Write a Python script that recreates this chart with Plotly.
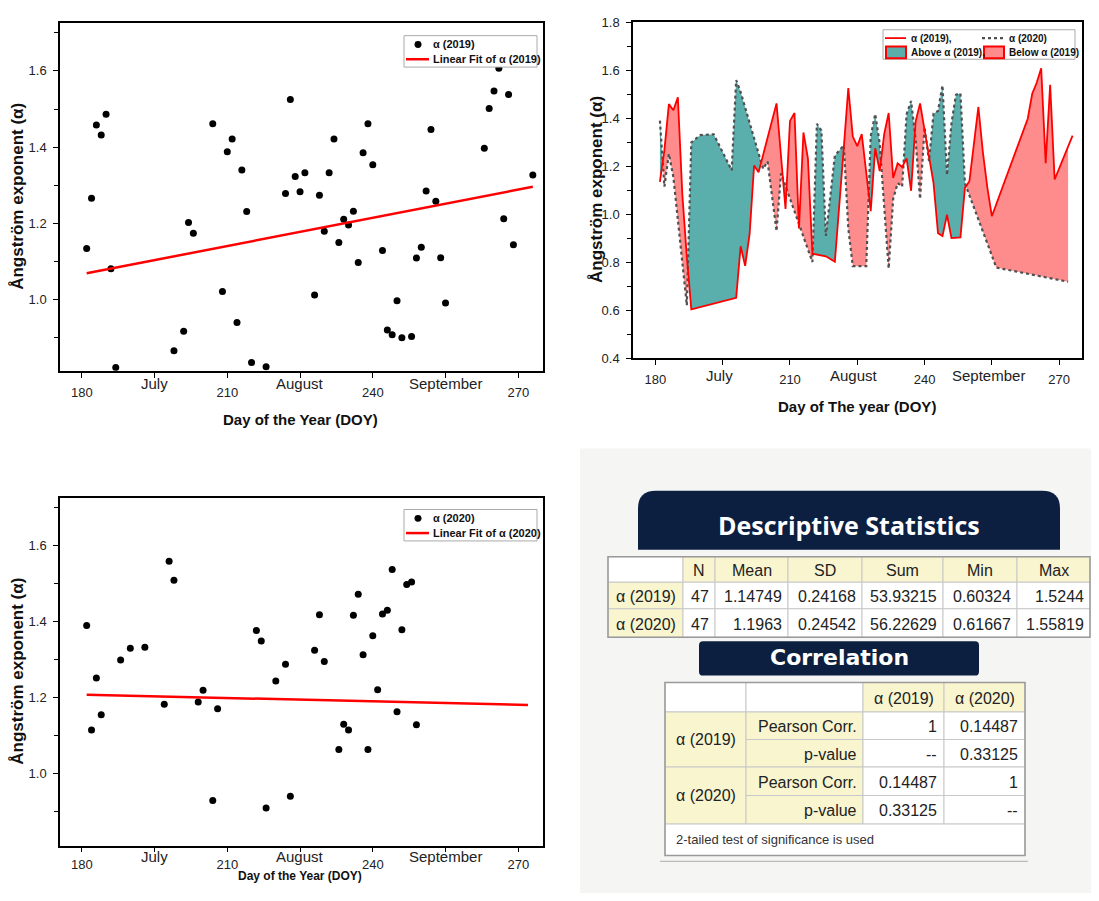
import numpy as np
import plotly.graph_objects as go

# page body has an 8px margin: make the figure fit the window exactly and
# map reference-pixel coordinates onto it
OFF = 8
FW, FH = 1099 - 2 * OFF, 901 - 2 * OFF
FONT = "Liberation Sans, Arial, sans-serif"

# ---------------- data ----------------
doy_2019 = [181, 182, 183, 184, 185, 186, 187, 188, 198, 199, 200, 201, 202, 203, 207, 209, 210,
            211, 212, 213, 214, 215, 218, 220, 222, 223, 224, 225, 226, 228, 229, 230, 231, 232,
            233, 234, 235, 236, 237, 238, 239, 240, 242, 243, 244, 245, 246, 248, 249, 250, 251,
            252, 253, 254, 255, 263, 264, 265, 266, 267, 268, 269, 273]
alpha_2019 = [1.134, 1.266, 1.458, 1.432, 1.486, 1.081, 0.822, 0.603, 0.651, 0.866, 0.784, 0.917,
              1.202, 1.174, 1.461, 1.021, 1.388, 1.421, 0.940, 1.340, 1.231, 0.835, 0.824, 0.801,
              1.278, 1.525, 1.323, 1.283, 1.333, 1.012, 1.274, 1.179, 1.333, 1.421, 1.150, 1.211,
              1.196, 1.232, 1.097, 1.385, 1.461, 1.354, 1.129, 0.920, 0.908, 0.997, 0.900, 0.903,
              1.109, 1.137, 1.285, 1.446, 1.258, 1.110, 0.991, 1.397, 1.501, 1.547, 1.607, 1.212,
              1.538, 1.144, 1.327]
doy_2020 = [181, 182, 183, 184, 187, 188, 190, 193, 197, 198, 199, 204, 205, 207, 208, 215, 216,
            217, 218, 220, 222, 223, 224, 227, 228, 229, 230, 232, 233, 234, 235, 236, 237, 238,
            239, 240, 241, 242, 243, 244, 245, 246, 247, 248, 249, 256, 272]
alpha_2020 = [1.389, 1.114, 1.251, 1.154, 0.620, 1.298, 1.329, 1.332, 1.182, 1.558, 1.508, 1.188,
              1.219, 0.929, 1.170, 0.800, 1.376, 1.348, 0.909, 1.243, 1.287, 0.940, 0.783, 0.783,
              1.324, 1.417, 1.294, 0.773, 1.063, 1.129, 1.114, 1.416, 1.471, 1.312, 1.063, 1.362,
              1.220, 1.419, 1.429, 1.536, 1.162, 1.378, 1.497, 1.503, 1.128, 0.777, 0.718]
fit_doy_2019 = [181, 273]
fit_alpha_2019 = [1.069, 1.296]
fit_doy_2020 = [181, 272]
fit_alpha_2020 = [1.207, 1.180]
month_names = ["July", "August", "September"]
month_doy = [195, 225, 255]

desc_columns = ["N", "Mean", "SD", "Sum", "Min", "Max"]
desc_rows = ["α (2019)", "α (2020)"]
desc_2019 = ["47", "1.14749", "0.24168", "53.93215", "0.60324", "1.5244"]
desc_2020 = ["47", "1.1963", "0.24542", "56.22629", "0.61667", "1.55819"]
corr_columns = ["α (2019)", "α (2020)"]
corr_rows = ["α (2019)", "α (2020)"]
corr_stats = ["Pearson Corr.", "p-value"]
corr_2019 = [["1", "0.14487"], ["--", "0.33125"]]
corr_2020 = [["0.14487", "1"], ["0.33125", "--"]]
corr_note = "2-tailed test of significance is used"

RED = "#ff0000"
TEAL = "#5aafad"
SALMON = "#ff8c8c"
DOT = "#505050"
NAVY = "#0c1f40"
YEL = "#f8f5cf"


def px(x):
    return (x - OFF) / FW


def py(y):
    return 1 - (y - OFF) / FH


fig = go.Figure()

# ---- panel 1 (2019 scatter) ----
fig.add_trace(go.Scatter(x=doy_2019, y=alpha_2019, mode="markers",
                         marker=dict(color="black", size=7), xaxis="x", yaxis="y"))
fig.add_trace(go.Scatter(x=fit_doy_2019, y=fit_alpha_2019, mode="lines",
                         line=dict(color=RED, width=2.5), xaxis="x", yaxis="y"))

# ---- panel 3 (2020 scatter) ----
fig.add_trace(go.Scatter(x=doy_2020, y=alpha_2020, mode="markers",
                         marker=dict(color="black", size=7), xaxis="x3", yaxis="y3"))
fig.add_trace(go.Scatter(x=fit_doy_2020, y=fit_alpha_2020, mode="lines",
                         line=dict(color=RED, width=2.5), xaxis="x3", yaxis="y3"))

# ---- panel 2 (fill between the two years) ----
d19 = np.array(doy_2019, float)
v19 = np.array(alpha_2019, float)
d20 = np.array(doy_2020, float)
v20 = np.array(alpha_2020, float)
lo, hi = max(d19.min(), d20.min()), min(d19.max(), d20.max())
grid = np.unique(np.concatenate([d19, d20]))
grid = grid[(grid >= lo) & (grid <= hi)]
ga = np.interp(grid, d19, v19)
gb = np.interp(grid, d20, v20)
xs = [grid[0]]
for i in range(len(grid) - 1):
    f0, f1 = gb[i] - ga[i], gb[i + 1] - ga[i + 1]
    if f0 * f1 < 0:
        t = f0 / (f0 - f1)
        xs.append(grid[i] + t * (grid[i + 1] - grid[i]))
    xs.append(grid[i + 1])
xs = np.array(xs)
A = np.interp(xs, d19, v19)
B = np.interp(xs, d20, v20)
top = np.maximum(A, B)

fig.add_trace(go.Scatter(x=xs, y=A, mode="lines", line=dict(width=0), xaxis="x2", yaxis="y2"))
fig.add_trace(go.Scatter(x=xs, y=top, mode="lines", line=dict(width=0), fill="tonexty",
                         fillcolor=TEAL, xaxis="x2", yaxis="y2"))
fig.add_trace(go.Scatter(x=xs, y=B, mode="lines", line=dict(width=0), xaxis="x2", yaxis="y2"))
fig.add_trace(go.Scatter(x=xs, y=top, mode="lines", line=dict(width=0), fill="tonexty",
                         fillcolor=SALMON, xaxis="x2", yaxis="y2"))
fig.add_trace(go.Scatter(x=doy_2020, y=alpha_2020, mode="lines",
                         line=dict(color=DOT, width=2.2, dash="dot"), xaxis="x2", yaxis="y2"))
fig.add_trace(go.Scatter(x=doy_2019, y=alpha_2019, mode="lines",
                         line=dict(color=RED, width=1.8), xaxis="x2", yaxis="y2"))

# ---------------- axes ----------------
tickfont = dict(family=FONT, size=13, color="#222")
base = dict(showline=True, linecolor="black", linewidth=1.5, mirror=True, ticks="outside",
            ticklen=5, tickwidth=1.2, tickcolor="black", showgrid=False, zeroline=False,
            tickfont=tickfont, ticklabelstandoff=4, ticklabeloverflow="allow")


def xax(rng, ticks="outside", **kw):
    return dict(base, range=rng, tick0=180, dtick=30, ticks=ticks,
                minor=dict(tick0=180, dtick=15, ticks=ticks, ticklen=5, tickwidth=1.2,
                           tickcolor="black"), **kw)


def yax(rng, ticks="outside", minorlen=4, **kw):
    return dict(base, range=rng, tick0=0, dtick=0.2, tickformat=".1f", ticks=ticks,
                minor=dict(tick0=0, dtick=0.1, ticks=ticks, ticklen=minorlen, tickwidth=1.2,
                           tickcolor="black"), **kw)


R1X, R1Y = [175.5, 275.1], [0.813, 1.726]
R2X, R2Y = [175, 275.1], [0.4, 1.8005]
R3X, R3Y = [175.5, 275.1], [0.81, 1.725]
deco = dict(showticklabels=False, showline=False)

x3 = xax(R3X, domain=[px(60), px(543)], anchor="y3")
x3["ticklabelstandoff"] = 1

fig.update_layout(
    xaxis=xax(R1X, domain=[px(60), px(543)], anchor="y"),
    yaxis=yax(R1Y, domain=[py(370), py(16)], anchor="x"),
    xaxis2=xax(R2X, domain=[px(633), px(1082)], anchor="y2"),
    yaxis2=yax(R2Y, domain=[py(357), py(15)], anchor="x2"),
    xaxis3=x3,
    yaxis3=yax(R3Y, domain=[py(853), py(499)], anchor="x3"),
    # opposite-side tick decorations
    xaxis4=xax(R1X, ticks="inside", overlaying="x", anchor="y", side="top", **deco),
    yaxis4=yax(R1Y, overlaying="y", anchor="x", side="right", **deco),
    xaxis5=xax(R2X, ticks="inside", overlaying="x2", anchor="y2", side="top", **deco),
    yaxis5=yax(R2Y, ticks="inside", minorlen=3, overlaying="y2", anchor="x2", side="right",
               **deco),
    xaxis6=xax(R3X, ticks="inside", overlaying="x3", anchor="y3", side="top", **deco),
    yaxis6=yax(R3Y, overlaying="y3", anchor="x3", side="right", **deco),
)

ann = []
shapes = []


def text(x, y, s, size=13, bold=False, xanchor="center", yanchor="middle", color="#111",
         family=FONT, angle=0, xref="paper", yref="paper"):
    ann.append(dict(x=x, y=y, xref=xref, yref=yref, text=("<b>%s</b>" % s) if bold else s,
                    showarrow=False, xanchor=xanchor, yanchor=yanchor, textangle=angle,
                    font=dict(family=family, size=size, color=color)))


# axis titles
text(px(18), py(193), "Ångström exponent (α)", size=17, bold=True, angle=-90)
text(px(18), py(676), "Ångström exponent (α)", size=17, bold=True, angle=-90)
text(px(597), py(186), "Ångström exponent (α)", size=17, bold=True, angle=-90)
text(px(300), py(419), "Day of the Year (DOY)", size=15, bold=True)
text(px(300), py(893), "Day of the Year (DOY)", size=12, bold=True, yanchor="bottom")
text(px(857), py(406), "Day of The year (DOY)", size=15, bold=True)

# month labels
for name, d in zip(month_names, month_doy):
    text(d, py(383), name, size=15, color="#222", xref="x")
    text(d, py(864), name, size=15, color="#222", xref="x3")
    text(d - 0.8, py(375), name, size=15, color="#222", xref="x2")


def rect(x0, y0, x1, y1, fill=None, line="#999", lw=1, layer="above"):
    shapes.append(dict(type="rect", xref="paper", yref="paper", x0=px(x0), x1=px(x1),
                       y0=py(y1), y1=py(y0), fillcolor=fill if fill else "rgba(0,0,0,0)",
                       line=dict(color=line, width=lw), layer=layer))


def hline(x0, x1, y, color, width, dash="solid"):
    shapes.append(dict(type="line", xref="paper", yref="paper", x0=px(x0), x1=px(x1),
                       y0=py(y), y1=py(y), line=dict(color=color, width=width, dash=dash)))


# legends for scatter panels
for (y0, label) in [(29, "α (2019)"), (511, "α (2020)")]:
    rect(404, y0, 537, y0 + 32, fill="white", line="#aaa", lw=1)
    shapes.append(dict(type="circle", xref="paper", yref="paper", x0=px(414.5), x1=px(421.5),
                       y0=py(y0 + 12.5), y1=py(y0 + 5.5), fillcolor="black",
                       line=dict(color="black", width=0)))
    text(px(431), py(y0 + 9), label, size=11, bold=True, xanchor="left")
    hline(406, 429, y0 + 24, RED, 2.5)
    text(px(431), py(y0 + 24), "Linear Fit of " + label, size=11, bold=True, xanchor="left")

# legend for panel 2
rect(883, 23, 1075, 53, fill="white", line="#aaa", lw=1)
hline(885, 906, 31.5, RED, 1.8)
text(px(909), py(31.5), "α (2019),", size=10, bold=True, xanchor="left")
hline(982, 1005, 31.5, DOT, 2.2, "dot")
text(px(1007), py(31.5), "α (2020)", size=10, bold=True, xanchor="left")
rect(886, 40, 906, 52, fill=TEAL, line=RED, lw=2)
text(px(909), py(46), "Above α (2019),", size=10, bold=True, xanchor="left")
rect(984, 40, 1004, 52, fill=SALMON, line=RED, lw=2)
text(px(1007), py(46), "Below α (2019)", size=10, bold=True, xanchor="left")

# ---------------- table panel ----------------
rect(580, 449, 1110, 910, fill="#f5f5f3", line="#f5f5f3", lw=0, layer="below")


def rounded_top(x0, y0, x1, y1, r, fill):
    rx, ry = r / FW, r / FH
    X0, X1, Y0, Y1 = px(x0), px(x1), py(y0), py(y1)
    path = (f"M {X0},{Y1} L {X0},{Y0 - ry} Q {X0},{Y0} {X0 + rx},{Y0} "
            f"L {X1 - rx},{Y0} Q {X1},{Y0} {X1},{Y0 - ry} L {X1},{Y1} Z")
    shapes.append(dict(type="path", xref="paper", yref="paper", path=path, fillcolor=fill,
                       line=dict(width=0)))


def rounded_all(x0, y0, x1, y1, r, fill):
    rx, ry = r / FW, r / FH
    X0, X1, Y0, Y1 = px(x0), px(x1), py(y0), py(y1)
    path = (f"M {X0},{Y1 + ry} L {X0},{Y0 - ry} Q {X0},{Y0} {X0 + rx},{Y0} "
            f"L {X1 - rx},{Y0} Q {X1},{Y0} {X1},{Y0 - ry} L {X1},{Y1 + ry} "
            f"Q {X1},{Y1} {X1 - rx},{Y1} L {X0 + rx},{Y1} Q {X0},{Y1} {X0},{Y1 + ry} Z")
    shapes.append(dict(type="path", xref="paper", yref="paper", path=path, fillcolor=fill,
                       line=dict(width=0)))


rounded_top(638, 492, 1060, 552, 18, NAVY)
text(px(849), py(527), "Descriptive Statistics", size=25, bold=True, color="white",
     family="Open Sans, Noto Sans, sans-serif")

GRID = "#c8c8c8"
TFS = 16
dx = [608, 683, 715, 788, 862, 943, 1017, 1090]
dy = [559, 585, 612, 641]
for j in range(7):
    rect(dx[j], dy[0], dx[j + 1], dy[1], fill="white" if j == 0 else YEL, line=GRID)
    if j > 0:
        text(px((dx[j] + dx[j + 1]) / 2), py((dy[0] + dy[1]) / 2 + 1), desc_columns[j - 1],
             size=TFS, color="#222")
for r, (lab, vals) in enumerate(zip(desc_rows, [desc_2019, desc_2020])):
    yc = (dy[r + 1] + dy[r + 2]) / 2 + 1
    rect(dx[0], dy[r + 1], dx[1], dy[r + 2], fill=YEL, line=GRID)
    text(px((dx[0] + dx[1]) / 2), py(yc), lab, size=TFS, color="#222")
    for j, v in enumerate(vals):
        rect(dx[j + 1], dy[r + 1], dx[j + 2], dy[r + 2], fill="white", line=GRID)
        text(px(dx[j + 2] - 4), py(yc), v, size=TFS, color="#222", xanchor="right")
rect(dx[0], dy[0], dx[-1], dy[-1], line="#9a9a9a", lw=1.5)

rounded_all(699, 645, 979, 680, 4, NAVY)
text(px(839), py(662), "Correlation", size=22, bold=True, color="white",
     family="DejaVu Sans, sans-serif")

cx = [665, 746, 863, 944, 1025]
cy = [687, 717, 745, 773, 802, 831, 863]
rect(cx[0], cy[0], cx[1], cy[1], fill="white", line=GRID)
rect(cx[1], cy[0], cx[2], cy[1], fill="white", line=GRID)
for j in range(2):
    rect(cx[j + 2], cy[0], cx[j + 3], cy[1], fill=YEL, line=GRID)
    text(px((cx[j + 2] + cx[j + 3]) / 2), py((cy[0] + cy[1]) / 2 + 1), corr_columns[j],
         size=TFS, color="#222")
for g, (lab, block) in enumerate(zip(corr_rows, [corr_2019, corr_2020])):
    ya, yb = cy[1 + 2 * g], cy[3 + 2 * g]
    rect(cx[0], ya, cx[1], yb, fill=YEL, line=GRID)
    text(px((cx[0] + cx[1]) / 2), py((ya + yb) / 2), lab, size=TFS, color="#222")
    for k in range(2):
        y0, y1 = cy[1 + 2 * g + k], cy[2 + 2 * g + k]
        yc = (y0 + y1) / 2 + 1
        rect(cx[1], y0, cx[2], y1, fill=YEL, line=GRID)
        text(px(cx[2] - 4), py(yc), corr_stats[k], size=TFS, color="#222", xanchor="right")
        for j in range(2):
            rect(cx[j + 2], y0, cx[j + 3], y1, fill="white", line=GRID)
            text(px(cx[j + 3] - 5), py(yc), block[k][j], size=TFS, color="#222",
                 xanchor="right")
rect(cx[0], cy[5], cx[4], cy[6], fill="white", line=GRID)
text(px(674), py((cy[5] + cy[6]) / 2), corr_note, size=13, color="#333", xanchor="left")
rect(cx[0], cy[0], cx[-1], cy[-1], line="#9a9a9a", lw=1.5)
hline(660, 1028, 869, "#bbbbbb", 1.2)

fig.update_layout(
    width=FW, height=FH, margin=dict(l=0, r=0, t=0, b=0),
    paper_bgcolor="white", plot_bgcolor="white", showlegend=False,
    font=dict(family=FONT, color="#222"),
    annotations=ann, shapes=shapes,
)

fig.write_html("out.html")
